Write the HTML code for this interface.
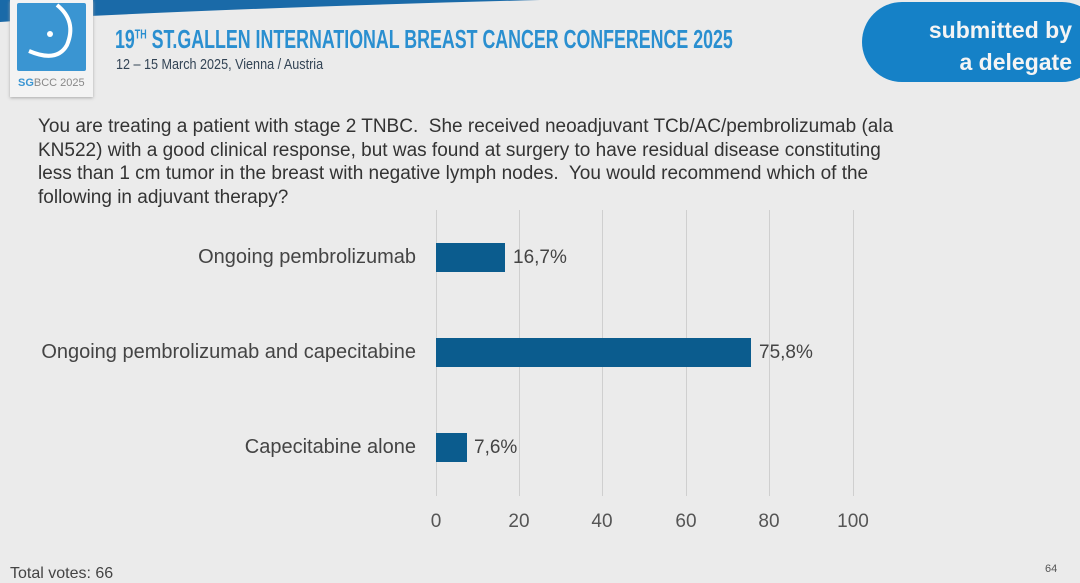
<!DOCTYPE html>
<html><head><meta charset="utf-8"><style>
body{margin:0;width:1080px;height:583px;overflow:hidden;background:#ebebeb;font-family:"Liberation Sans",sans-serif;position:relative}
.a{position:absolute;white-space:nowrap}
.g{position:absolute;top:210px;height:286px;width:1px;background:#cfcfcf}
.bar{position:absolute;left:436px;height:29px;background:#0b5c8e}
.lab{position:absolute;font-size:20px;color:#444;right:664px;text-align:right;white-space:nowrap}
.val{position:absolute;font-size:19px;color:#444}
.t{position:absolute;top:511px;font-size:19px;color:#555;width:60px;text-align:center}
</style></head><body>
<svg class="a" style="left:0;top:0" width="560" height="24"><path d="M0 0 L540 0 Q300 6 90 16 L0 22Z" fill="#1a6aa8"/></svg>
<div class="a" style="left:10px;top:0;width:83px;height:97px;background:#f3f3f3;box-shadow:0 1px 3px #aaa"></div>
<div class="a" style="left:17px;top:3px;width:69px;height:68px;background:#3a95d2;border-radius:2px"></div>
<svg class="a" style="left:17px;top:3px" width="69" height="68"><path d="M40 2 Q60 18 50 42 Q40 60 12 48" stroke="#fff" stroke-width="4" fill="none"/><circle cx="33" cy="31" r="3" fill="#fff"/></svg>
<div class="a" style="left:18px;top:77px;font-size:11px;color:#888"><b style="color:#3a95d2">SG</b>BCC 2025</div>
<div class="a" style="left:115px;top:24px;font-size:26px;font-weight:bold;color:#2a8fd0;transform:scaleX(0.685);transform-origin:left">19<sup style="font-size:13px">TH</sup> ST.GALLEN INTERNATIONAL BREAST CANCER CONFERENCE 2025</div>
<div class="a" style="left:116px;top:56px;font-size:15px;color:#345;transform:scaleX(0.84);transform-origin:left">12 – 15 March 2025, Vienna / Austria</div>
<div class="a" style="left:862px;top:2px;width:240px;height:80px;background:#1581c7;border-radius:40px"></div>
<div class="a" style="left:900px;top:14px;width:172px;text-align:right;font-size:23px;font-weight:bold;color:#f4f4f4;line-height:32px">submitted by<br>a delegate</div>
<div class="a" style="left:38px;top:115px;font-size:19px;color:#333;line-height:23.5px">You are treating a patient with stage 2 TNBC.&nbsp; She received neoadjuvant TCb/AC/pembrolizumab (ala<br>KN522) with a good clinical response, but was found at surgery to have residual disease constituting<br>less than 1 cm tumor in the breast with negative lymph nodes.&nbsp; You would recommend which of the<br>following in adjuvant therapy?</div>
<div class="g" style="left:436px"></div><div class="g" style="left:519px"></div><div class="g" style="left:602px"></div><div class="g" style="left:686px"></div><div class="g" style="left:769px"></div><div class="g" style="left:853px"></div>
<div class="bar" style="top:243px;width:69px"></div>
<div class="bar" style="top:338px;width:315px"></div>
<div class="bar" style="top:433px;width:31px"></div>
<div class="lab" style="top:246px">Ongoing pembrolizumab</div>
<div class="lab" style="top:341px">Ongoing pembrolizumab and capecitabine</div>
<div class="lab" style="top:436px">Capecitabine alone</div>
<div class="val" style="left:513px;top:247px">16,7%</div>
<div class="val" style="left:759px;top:342px">75,8%</div>
<div class="val" style="left:474px;top:437px">7,6%</div>
<div class="t" style="left:406px">0</div><div class="t" style="left:489px">20</div><div class="t" style="left:572px">40</div><div class="t" style="left:656px">60</div><div class="t" style="left:739px">80</div><div class="t" style="left:823px">100</div>
<div class="a" style="left:10px;top:565px;font-size:16px;color:#444">Total votes: 66</div>
<div class="a" style="left:1045px;top:563px;font-size:11px;color:#555">64</div>
</body></html>
